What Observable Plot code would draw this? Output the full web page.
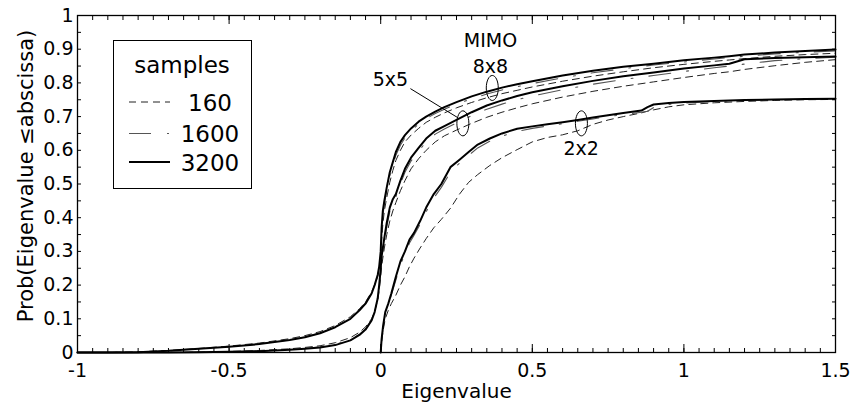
<!DOCTYPE html>
<html><head><meta charset="utf-8">
<script src="https://cdn.jsdelivr.net/npm/d3@7"></script>
<script src="https://cdn.jsdelivr.net/npm/@observablehq/plot@0.6"></script>
<style>body{margin:0;background:#fff;} #chart{width:853px;height:405px;}</style>
</head><body><div id="chart"></div>
<script>
// ---- data ----
const xWide = [-1, -0.9, -0.8, -0.7, -0.6, -0.5, -0.4, -0.3, -0.25, -0.2, -0.15, -0.1, -0.07, -0.05, -0.03, -0.02, -0.01, -0.005, 0, 0.003, 0.007, 0.012, 0.02, 0.03, 0.04, 0.05, 0.065, 0.08, 0.1, 0.125, 0.15, 0.18, 0.21, 0.25, 0.3, 0.35, 0.4, 0.45, 0.5, 0.6, 0.7, 0.8, 0.9, 1.0, 1.1, 1.15, 1.2, 1.3, 1.4, 1.5];

const y8x8_3200 = [0, 0, 0.001, 0.005, 0.011, 0.017, 0.025, 0.037, 0.045, 0.057, 0.075, 0.1, 0.125, 0.145, 0.175, 0.2, 0.23, 0.255, 0.3, 0.37, 0.42, 0.45, 0.49, 0.535, 0.565, 0.595, 0.625, 0.645, 0.665, 0.685, 0.7, 0.715, 0.728, 0.743, 0.76, 0.774, 0.786, 0.796, 0.805, 0.822, 0.836, 0.848, 0.857, 0.867, 0.875, 0.879, 0.884, 0.89, 0.895, 0.899];
const y8x8_1600 = [0, 0, 0.001, 0.005, 0.011, 0.017, 0.026, 0.038, 0.046, 0.058, 0.076, 0.102, 0.127, 0.147, 0.178, 0.2, 0.228, 0.25, 0.29, 0.35, 0.405, 0.44, 0.48, 0.525, 0.557, 0.585, 0.615, 0.637, 0.658, 0.678, 0.694, 0.709, 0.722, 0.737, 0.753, 0.767, 0.779, 0.789, 0.798, 0.815, 0.83, 0.842, 0.853, 0.862, 0.871, 0.875, 0.879, 0.886, 0.891, 0.895];
const y8x8_160 = [0, 0, 0.002, 0.006, 0.012, 0.019, 0.028, 0.041, 0.05, 0.062, 0.08, 0.106, 0.13, 0.15, 0.18, 0.2, 0.225, 0.245, 0.28, 0.33, 0.38, 0.42, 0.46, 0.505, 0.54, 0.57, 0.6, 0.625, 0.645, 0.665, 0.683, 0.698, 0.711, 0.726, 0.742, 0.756, 0.768, 0.778, 0.788, 0.805, 0.82, 0.833, 0.845, 0.855, 0.864, 0.868, 0.872, 0.879, 0.884, 0.888];

const y5x5_3200 = [0, 0, 0, 0, 0.001, 0.002, 0.004, 0.008, 0.011, 0.015, 0.022, 0.036, 0.052, 0.068, 0.095, 0.12, 0.16, 0.2, 0.25, 0.285, 0.31, 0.34, 0.385, 0.43, 0.455, 0.47, 0.51, 0.545, 0.578, 0.607, 0.635, 0.658, 0.672, 0.69, 0.713, 0.733, 0.748, 0.761, 0.772, 0.79, 0.806, 0.82, 0.831, 0.843, 0.852, 0.857, 0.87, 0.874, 0.876, 0.878];
const y5x5_1600 = [0, 0, 0, 0, 0.001, 0.002, 0.005, 0.009, 0.012, 0.017, 0.024, 0.038, 0.054, 0.07, 0.097, 0.12, 0.158, 0.195, 0.24, 0.275, 0.3, 0.33, 0.373, 0.418, 0.445, 0.462, 0.5, 0.535, 0.568, 0.598, 0.625, 0.648, 0.663, 0.681, 0.703, 0.722, 0.737, 0.75, 0.761, 0.78, 0.796, 0.81, 0.822, 0.834, 0.845, 0.85, 0.856, 0.866, 0.872, 0.876];
const y5x5_160 = [0, 0, 0, 0, 0.001, 0.003, 0.006, 0.011, 0.015, 0.02, 0.029, 0.044, 0.06, 0.076, 0.1, 0.122, 0.155, 0.185, 0.225, 0.255, 0.28, 0.31, 0.35, 0.39, 0.42, 0.445, 0.48, 0.51, 0.545, 0.575, 0.6, 0.625, 0.643, 0.66, 0.68, 0.698, 0.713, 0.726, 0.738, 0.758, 0.775, 0.79, 0.803, 0.816, 0.828, 0.833, 0.84, 0.851, 0.861, 0.869];

const x2x2 = [0, 0.003, 0.008, 0.015, 0.025, 0.035, 0.05, 0.065, 0.08, 0.095, 0.11, 0.13, 0.15, 0.175, 0.2, 0.23, 0.26, 0.29, 0.32, 0.36, 0.4, 0.45, 0.5, 0.55, 0.6, 0.65, 0.7, 0.75, 0.8, 0.86, 0.88, 0.9, 0.95, 1.0, 1.1, 1.2, 1.3, 1.4, 1.5];
const y2x2_3200 = [0, 0.04, 0.08, 0.12, 0.145, 0.175, 0.225, 0.27, 0.3, 0.335, 0.355, 0.39, 0.43, 0.47, 0.5, 0.55, 0.572, 0.595, 0.617, 0.635, 0.65, 0.664, 0.671, 0.677, 0.683, 0.69, 0.697, 0.704, 0.711, 0.718, 0.728, 0.736, 0.74, 0.743, 0.746, 0.749, 0.751, 0.752, 0.753];
const y2x2_1600 = [0, 0.035, 0.075, 0.115, 0.14, 0.17, 0.215, 0.26, 0.292, 0.325, 0.348, 0.38, 0.418, 0.458, 0.49, 0.535, 0.562, 0.585, 0.607, 0.627, 0.642, 0.656, 0.665, 0.672, 0.679, 0.686, 0.693, 0.7, 0.706, 0.713, 0.716, 0.727, 0.736, 0.74, 0.745, 0.748, 0.75, 0.751, 0.752];
const y2x2_160 = [0, 0.03, 0.065, 0.1, 0.125, 0.145, 0.17, 0.2, 0.225, 0.255, 0.28, 0.31, 0.338, 0.37, 0.395, 0.428, 0.47, 0.505, 0.528, 0.555, 0.578, 0.602, 0.625, 0.638, 0.646, 0.658, 0.677, 0.69, 0.7, 0.711, 0.716, 0.72, 0.729, 0.735, 0.741, 0.745, 0.748, 0.75, 0.751];

const sampleSizes = ["160", "1600", "3200"];
const xTickLabels = [-1, -0.5, 0, 0.5, 1, 1.5];
const yTickLabels = [0, 0.1, 0.2, 0.3, 0.4, 0.5, 0.6, 0.7, 0.8, 0.9, 1];

const annoText = ["MIMO", "8x8", "5x5", "2x2"];
const annoX = [0.362, 0.362, 0.032, 0.661];
const annoY = [0.926, 0.846, 0.809, 0.604];
const ellipseX = [0.368, 0.271, 0.662];
const ellipseY = [0.785, 0.680, 0.680];
const leader = {x1: 0.098, y1: 0.783, x2: 0.254, y2: 0.697};

// ---- build table ----
const rows = [];
function add(xs, ys, mimo, samples) { xs.forEach((x, i) => rows.push({x, y: ys[i], mimo, samples})); }
add(xWide, y8x8_160, "8x8", "160"); add(xWide, y8x8_1600, "8x8", "1600"); add(xWide, y8x8_3200, "8x8", "3200");
add(xWide, y5x5_160, "5x5", "160"); add(xWide, y5x5_1600, "5x5", "1600"); add(xWide, y5x5_3200, "5x5", "3200");
add(x2x2, y2x2_160, "2x2", "160"); add(x2x2, y2x2_1600, "2x2", "1600"); add(x2x2, y2x2_3200, "2x2", "3200");

const styles = {
  "160": {stroke: "#222", strokeWidth: 1, strokeDasharray: "7,5"},
  "1600": {stroke: "#555", strokeWidth: 1.1, strokeDasharray: "22,16,2,16"},
  "3200": {stroke: "#000", strokeWidth: 2, strokeDasharray: null}
};

const annos = annoText.map((t, i) => ({t, x: annoX[i], y: annoY[i]}));
const ells = ellipseX.map((x, i) => ({x, y: ellipseY[i]}));

const ellipseSymbol = {draw(ctx) {
  const rx = 6, ry = 12.5, k = 0.5523;
  ctx.moveTo(rx, 0);
  ctx.bezierCurveTo(rx, ry * k, rx * k, ry, 0, ry);
  ctx.bezierCurveTo(-rx * k, ry, -rx, ry * k, -rx, 0);
  ctx.bezierCurveTo(-rx, -ry * k, -rx * k, -ry, 0, -ry);
  ctx.bezierCurveTo(rx * k, -ry, rx, -ry * k, rx, 0);
  ctx.closePath();
}};

const xMinor = d3.range(-1, 1.5001, 0.05);
const yMinor = d3.range(0, 1.0001, 0.05);
const fmt = d => String(d);

const chart = Plot.plot({
  width: 853, height: 405,
  marginLeft: 77, marginRight: 18, marginTop: 15, marginBottom: 53,
  x: {domain: [-1, 1.5]},
  y: {domain: [0, 1]},
  style: {fontFamily: "DejaVu Sans", fontSize: "19px", background: "white", color: "black", overflow: "visible"},
  marks: [
    ...sampleSizes.map(s => Plot.line(rows.filter(d => d.samples === s), {x: "x", y: "y", z: "mimo", ...styles[s]})),
    Plot.dot(ells, {x: "x", y: "y", symbol: ellipseSymbol, fill: "none", stroke: "black", strokeWidth: 1}),
    Plot.link([leader], {x1: "x1", y1: "y1", x2: "x2", y2: "y2", stroke: "black", strokeWidth: 1}),
    Plot.text(annos, {x: "x", y: "y", text: "t", fontSize: 19, fill: "black"}),
    Plot.frame({stroke: "black", strokeWidth: 1.3}),
    Plot.axisX({ticks: xMinor, anchor: "bottom", tickSize: 4, dy: -4, fill: "none", label: null}),
    Plot.axisX({ticks: xTickLabels, anchor: "bottom", tickSize: 8, dy: -8, fill: "none", label: null}),
    Plot.axisX({ticks: xMinor, anchor: "top", tickSize: 4, dy: 4, fill: "none", label: null}),
    Plot.axisX({ticks: xTickLabels, anchor: "top", tickSize: 8, dy: 8, fill: "none", label: null}),
    Plot.axisX({ticks: xTickLabels, anchor: "bottom", tickSize: 0, tickPadding: 11, tickFormat: fmt, label: null, fontSize: 19}),
    Plot.axisY({ticks: yMinor, anchor: "left", tickSize: 4, dx: 4, fill: "none", label: null}),
    Plot.axisY({ticks: yMinor, anchor: "right", tickSize: 4, dx: -4, fill: "none", label: null}),
    Plot.axisY({ticks: yTickLabels, anchor: "left", tickSize: 0, tickPadding: 4, tickFormat: fmt, label: null, fontSize: 19}),
    Plot.text(["Eigenvalue"], {frameAnchor: "bottom", lineAnchor: "middle", textAnchor: "middle", dy: 39, fontSize: 20, fill: "black"}),
    Plot.text(["Prob(Eigenvalue \u2264abscissa)"], {frameAnchor: "left", lineAnchor: "middle", textAnchor: "middle", dx: -51, dy: -8, rotate: -90, fontSize: 21, fill: "black"})
  ]
});

// legend box (decoration inside the plot)
const svg = d3.select(chart);
const lg = svg.append("g").attr("font-family", "DejaVu Sans");
lg.append("rect").attr("x", 113.5).attr("y", 40.5).attr("width", 138).attr("height", 148)
  .attr("fill", "white").attr("stroke", "black").attr("stroke-width", 1);
lg.append("text").attr("x", 182).attr("y", 73).attr("text-anchor", "middle").attr("font-size", 23).text("samples");
const legendY = [102, 133.5, 162];
sampleSizes.forEach((s, i) => {
  const st = styles[s];
  lg.append("line").attr("x1", 129).attr("x2", 170).attr("y1", legendY[i]).attr("y2", legendY[i])
    .attr("stroke", st.stroke).attr("stroke-width", st.strokeWidth)
    .attr("stroke-dasharray", st.strokeDasharray);
  lg.append("text").attr("x", 210).attr("y", legendY[i] + 8.5).attr("text-anchor", "middle")
    .attr("font-size", 23).text(s);
});

document.getElementById("chart").appendChild(chart);
</script>
</body></html>
